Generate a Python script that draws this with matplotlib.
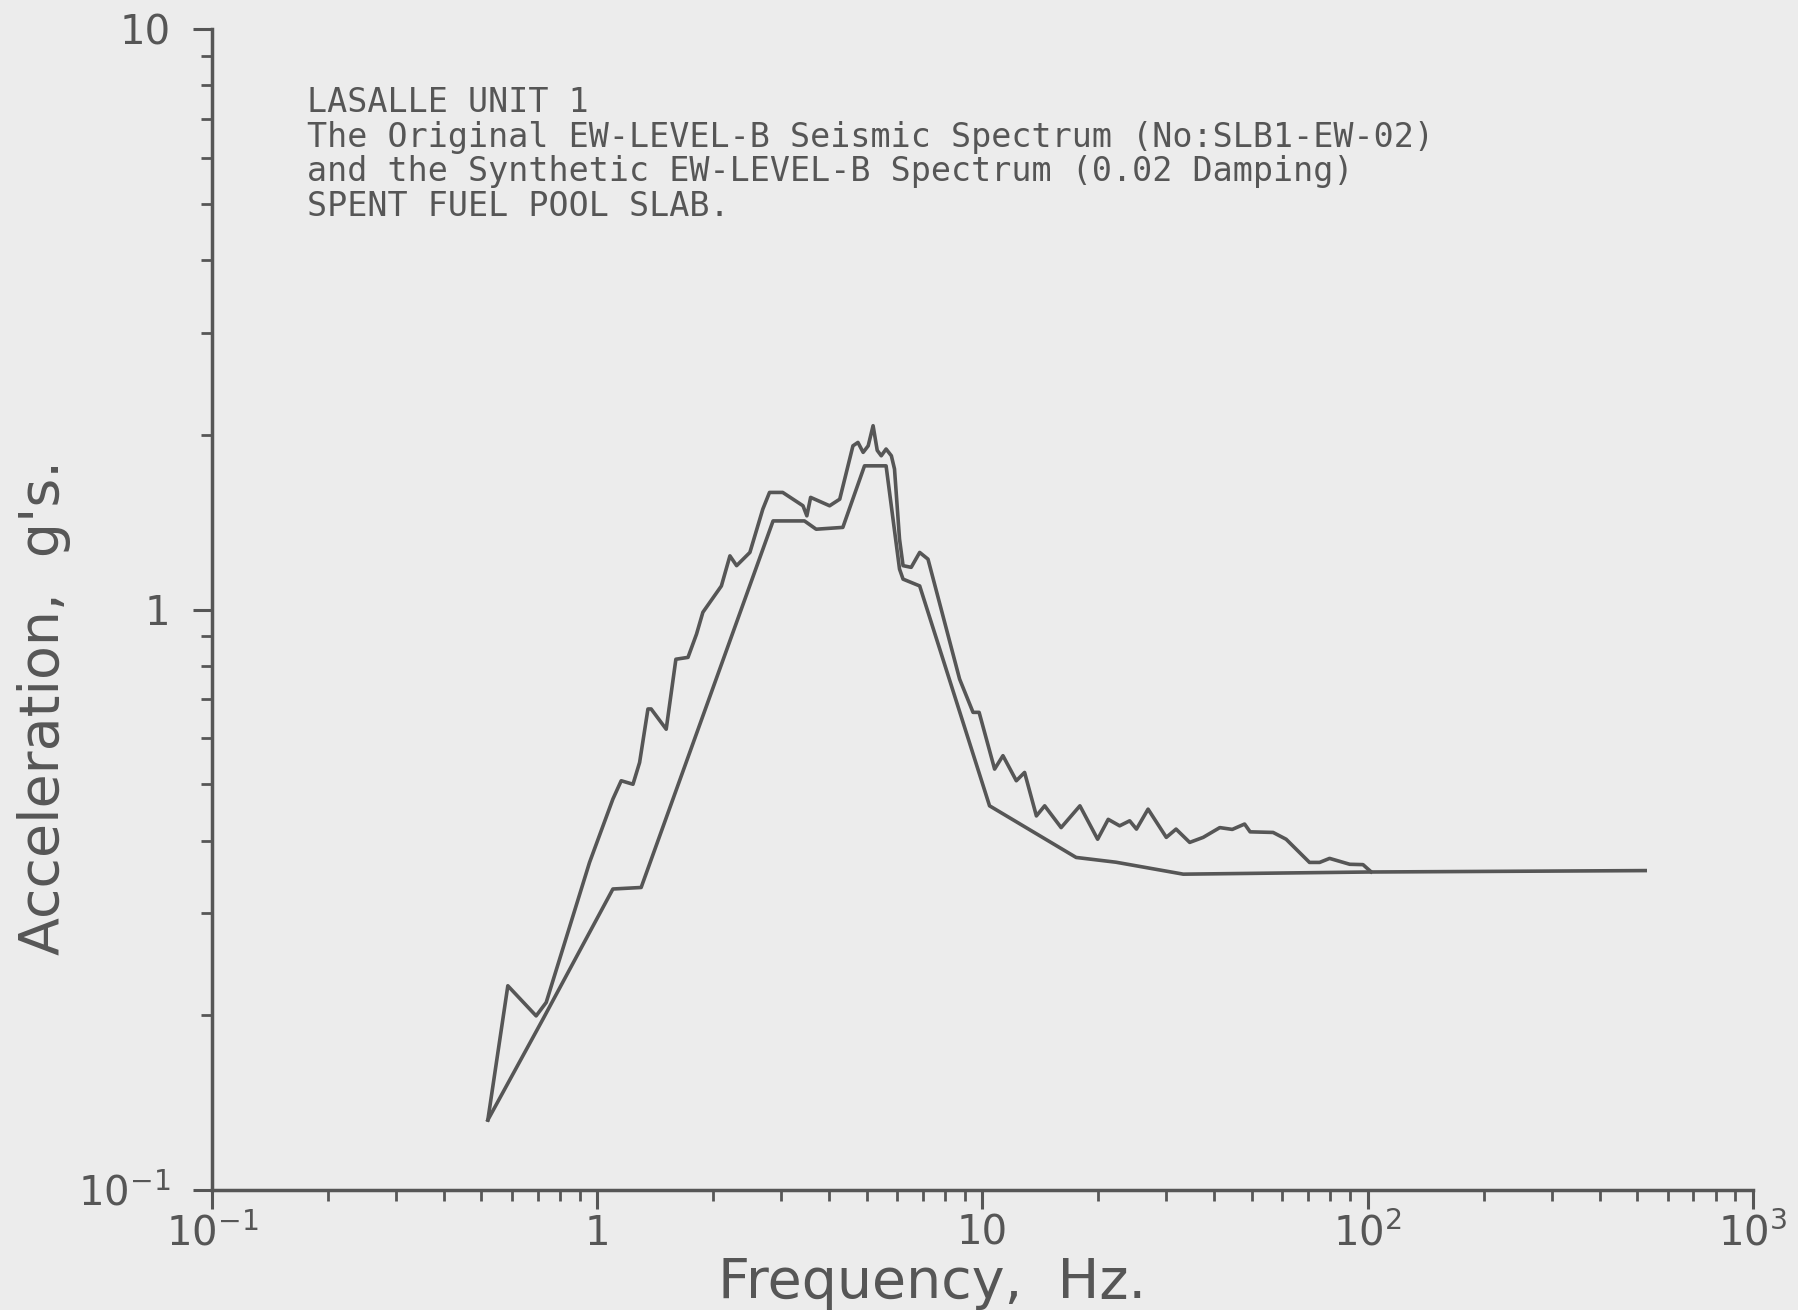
import matplotlib
matplotlib.use('Agg')
import matplotlib.pyplot as plt
from matplotlib.ticker import FixedLocator, LogLocator, NullFormatter

# Synthetic EW-LEVEL-B spectrum (smooth envelope)
syn_freq = [0.52, 0.723, 1.098, 1.30, 2.86, 3.45, 3.70, 4.34, 4.94, 5.62,
            6.09, 6.22, 6.87, 10.43, 17.5, 22.2, 33.2, 100, 525]
syn_acc = [0.132, 0.197, 0.330, 0.332, 1.421, 1.421, 1.375, 1.385, 1.768, 1.768,
           1.174, 1.128, 1.098, 0.459, 0.374, 0.367, 0.350, 0.353, 0.355]

# Original EW-LEVEL-B seismic spectrum (jagged)
orig_freq = [0.52, 0.586, 0.694, 0.737, 0.955, 1.098, 1.154, 1.238, 1.288, 1.354,
             1.38, 1.51, 1.60, 1.72, 1.81, 1.88, 2.10, 2.21, 2.30, 2.49,
             2.69, 2.80, 3.03, 3.42, 3.50, 3.58, 4.01, 4.26, 4.61, 4.75,
             4.90, 5.05, 5.20, 5.33, 5.46, 5.62, 5.80, 5.91, 6.09, 6.22,
             6.53, 6.87, 7.22, 8.72, 9.45, 9.80, 10.75, 11.3, 12.24, 12.86,
             13.8, 14.5, 16.0, 17.9, 19.9, 21.2, 22.7, 24.1, 25.1, 26.9,
             30.0, 31.8, 34.5, 37.4, 41.3, 44.5, 47.9, 49.5, 56.8, 61.4,
             70.6, 75.0, 79.6, 89.8, 97.2, 102]
orig_acc = [0.132, 0.2248, 0.1995, 0.2104, 0.3667, 0.4715, 0.507, 0.500, 0.545, 0.674,
            0.674, 0.622, 0.821, 0.827, 0.907, 0.989, 1.098, 1.237, 1.19, 1.254,
            1.489, 1.591, 1.591, 1.509, 1.45, 1.56, 1.509, 1.549, 1.914, 1.94,
            1.865, 1.914, 2.073, 1.88, 1.84, 1.89, 1.84, 1.746, 1.322, 1.19,
            1.182, 1.254, 1.221, 0.759, 0.665, 0.665, 0.531, 0.56, 0.507, 0.524,
            0.441, 0.459, 0.421, 0.459, 0.402, 0.435, 0.424, 0.4325, 0.4185, 0.453,
            0.405, 0.4185, 0.397, 0.405, 0.421, 0.418, 0.427, 0.414, 0.413, 0.402,
            0.3667, 0.3667, 0.3726, 0.364, 0.3635, 0.3533]

x_ticks = [0.1, 1, 10, 100, 1000]
x_ticklabels = ['10$^{-1}$', '1', '10', '10$^{2}$', '10$^{3}$']
y_ticks = [0.1, 1, 10]
y_ticklabels = ['10$^{-1}$', '1', '10']

title_lines = [
    "LASALLE UNIT 1",
    "The Original EW-LEVEL-B Seismic Spectrum (No:SLB1-EW-02)",
    "and the Synthetic EW-LEVEL-B Spectrum (0.02 Damping)",
    "SPENT FUEL POOL SLAB.",
]

bg = '#ececec'
ink = '#565656'

plt.rcParams['mathtext.fontset'] = 'dejavusans'

W, H = 1799, 1310
fig = plt.figure(figsize=(W / 100, H / 100), dpi=100, facecolor=bg)
# axes box in pixels: left 212, right 1753, top 29, bottom 1190
ax = fig.add_axes([212 / W, 1 - 1190 / H, (1753 - 212) / W, (1190 - 29) / H])
ax.set_facecolor(bg)

ax.plot(syn_freq, syn_acc, color=ink, linewidth=2.6)
ax.plot(orig_freq, orig_acc, color=ink, linewidth=2.6)

ax.set_xscale('log')
ax.set_yscale('log')
ax.set_xlim(0.1, 1000)
ax.set_ylim(0.1, 10)

for s in ['top', 'right']:
    ax.spines[s].set_visible(False)
for s in ['left', 'bottom']:
    ax.spines[s].set_color(ink)
    ax.spines[s].set_linewidth(2.5)

ax.xaxis.set_major_locator(FixedLocator(x_ticks))
ax.set_xticklabels(x_ticklabels)
ax.yaxis.set_major_locator(FixedLocator(y_ticks))
ax.set_yticklabels(y_ticklabels)
ax.xaxis.set_minor_locator(LogLocator(base=10, subs=range(2, 10)))
ax.yaxis.set_minor_locator(LogLocator(base=10, subs=range(2, 10)))
ax.xaxis.set_minor_formatter(NullFormatter())
ax.yaxis.set_minor_formatter(NullFormatter())

ax.tick_params(axis='x', which='major', direction='out', length=14, width=2.2,
               color=ink, labelcolor=ink, labelsize=29, pad=3)
ax.tick_params(axis='y', which='major', direction='out', length=14, width=2.2,
               color=ink, labelcolor=ink, labelsize=29, pad=16)
ax.tick_params(which='minor', direction='out', length=8, width=2.0, color=ink)

fig.text(932 / W, 1 - 1298 / H, "Frequency,  Hz.", ha='center', va='baseline',
         fontsize=40, color=ink)
fig.text(44 / W, 1 - 708 / H, "Acceleration,  g's.", ha='center', va='center',
         rotation=90, fontsize=40, color=ink)

# annotation block, one line at a time
for i, line in enumerate(title_lines):
    fig.text(307 / W, 1 - (103 + 34.5 * i) / H, line, ha='left', va='center',
             fontsize=24, family='DejaVu Sans Mono', color=ink)

fig.savefig('out.png', dpi=100, facecolor=bg)
